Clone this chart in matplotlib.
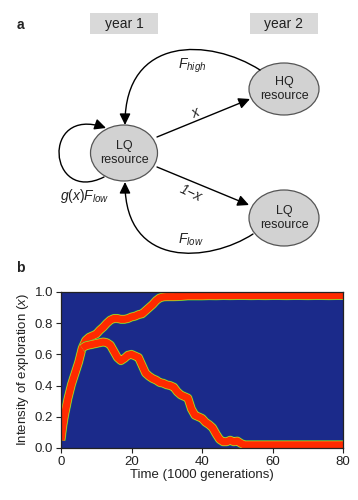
import matplotlib
matplotlib.use("Agg")
import matplotlib.pyplot as plt
from matplotlib.patches import Ellipse, Rectangle, FancyArrowPatch
from matplotlib.path import Path

plt.rcParams['font.family'] = ['Liberation Sans', 'DejaVu Sans']
plt.rcParams['mathtext.fontset'] = 'custom'
plt.rcParams['mathtext.rm'] = 'Liberation Sans'
plt.rcParams['mathtext.it'] = 'Liberation Sans:italic'
plt.rcParams['mathtext.bf'] = 'Liberation Sans:bold'

# ---------------- data (panel b) ----------------
t_upper = [0, 0.5, 1, 2, 3, 4, 5, 6, 7, 8, 9, 10, 11, 12, 13, 14, 15, 16, 17, 18,
           19, 20, 21, 22, 23, 24, 25, 26, 27, 28, 29, 30, 32, 34, 36, 38, 40, 42,
           44, 46, 48, 50, 52, 54, 56, 58, 60, 62, 64, 66, 68, 70, 72, 74, 76, 78, 80]
x_upper = [0.05, 0.14, 0.21, 0.32, 0.41, 0.48, 0.55, 0.64, 0.69, 0.71, 0.72, 0.73,
           0.755, 0.775, 0.80, 0.82, 0.83, 0.83, 0.825, 0.825, 0.83, 0.84, 0.845,
           0.855, 0.86, 0.88, 0.90, 0.92, 0.945, 0.962, 0.968, 0.97, 0.97, 0.972,
           0.975, 0.975, 0.975, 0.977, 0.976, 0.978, 0.977, 0.978, 0.978, 0.977,
           0.978, 0.977, 0.978, 0.978, 0.977, 0.978, 0.978, 0.977, 0.978, 0.978,
           0.977, 0.978, 0.978]

t_lower = [6, 7, 8, 9, 10, 11, 12, 13, 14, 15, 16, 17, 18, 19, 20, 21, 22, 23, 24,
           25, 26, 27, 28, 29, 30, 31, 32, 33, 34, 35, 36, 37, 38, 39, 40, 41, 42,
           43, 44, 45, 46, 47, 48, 49, 50, 51, 52, 56, 60, 64, 68, 72, 76, 80]
x_lower = [0.64, 0.655, 0.66, 0.665, 0.67, 0.675, 0.68, 0.675, 0.66, 0.62, 0.58,
           0.56, 0.575, 0.595, 0.60, 0.59, 0.58, 0.53, 0.48, 0.46, 0.445, 0.435,
           0.42, 0.415, 0.405, 0.40, 0.39, 0.36, 0.34, 0.33, 0.32, 0.25, 0.21,
           0.20, 0.19, 0.165, 0.15, 0.13, 0.09, 0.055, 0.04, 0.04, 0.05, 0.04,
           0.045, 0.03, 0.02, 0.02, 0.02, 0.02, 0.02, 0.02, 0.02, 0.02]

x_ticks = [0, 20, 40, 60, 80]
y_ticks = [0.0, 0.2, 0.4, 0.6, 0.8, 1.0]

TXT = '#222222'

fig = plt.figure(figsize=(3.58, 5.0), dpi=100)

# ---------------- panel a (diagram, pixel coordinates) ----------------
ax_a = fig.add_axes([0, 0, 1, 1])
ax_a.set_xlim(0, 358)
ax_a.set_ylim(500, 0)
ax_a.axis('off')

ax_a.text(20, 25, 'a', fontsize=10, fontweight='bold', ha='center', va='center', color=TXT)
for cx, lab in [(124, 'year 1'), (284, 'year 2')]:
    ax_a.add_patch(Rectangle((cx - 34, 13), 68, 21, facecolor='#d9d9d9', edgecolor='none'))
    ax_a.text(cx, 24, lab, fontsize=10, ha='center', va='center', color=TXT)

for (cx, cy, w, h, lab) in [(124, 153, 67, 56, 'LQ\nresource'),
                            (284, 89, 70, 52, 'HQ\nresource'),
                            (284, 218, 70, 56, 'LQ\nresource')]:
    ax_a.add_patch(Ellipse((cx, cy), w, h, facecolor='#d2d2d2', edgecolor='#555555', lw=0.9))
    ax_a.text(cx, cy, lab, fontsize=9, ha='center', va='center', color=TXT, linespacing=1.25)

astyle = '-|>,head_length=0.45,head_width=0.22'
akw = dict(arrowstyle=astyle, mutation_scale=15, color='black', lw=1.0,
           shrinkA=0, shrinkB=0)

# straight arrows
ax_a.add_patch(FancyArrowPatch((157, 137), (250, 99), **akw))
ax_a.add_patch(FancyArrowPatch((157, 167), (249, 205), **akw))

C = [Path.MOVETO, Path.CURVE4, Path.CURVE4, Path.CURVE4]
# F_high curve
ax_a.add_patch(FancyArrowPatch(path=Path([(260, 70), (210, 38), (125, 35), (125, 125)], C),
                               arrowstyle=astyle, mutation_scale=15, color='black', lw=1.0))
# F_low curve
ax_a.add_patch(FancyArrowPatch(path=Path([(253, 234), (210, 262), (125, 270), (125, 182)], C),
                               arrowstyle=astyle, mutation_scale=15, color='black', lw=1.0))
# self loop
ax_a.add_patch(FancyArrowPatch(path=Path([(104, 177), (48, 205), (40, 105), (106, 128)], C),
                               arrowstyle=astyle, mutation_scale=15, color='black', lw=1.0))

ax_a.text(192, 66, r'$F_{high}$', fontsize=10, ha='center', va='center', color=TXT)
ax_a.text(196, 113, r'$x$', fontsize=10, ha='center', va='center', color=TXT, rotation=22)
ax_a.text(191, 193, '1\u2212x', fontsize=10, style='italic', ha='center', va='center',
          color=TXT, rotation=-25)
ax_a.text(191, 240, r'$F_{low}$', fontsize=10, ha='center', va='center', color=TXT)
ax_a.text(85, 196, r'$g(x)F_{low}$', fontsize=10, ha='center', va='center', color=TXT)

ax_a.text(20, 268, 'b', fontsize=10, fontweight='bold', ha='center', va='center', color=TXT)

# ---------------- panel b ----------------
ax = fig.add_axes([61 / 358, 52 / 500, 282 / 358, 156 / 500])
ax.set_facecolor('#1b2a8a')
for tt, xx in [(t_upper, x_upper), (t_lower, x_lower)]:
    ax.plot(tt, xx, color='#3cb043', lw=6.6, solid_capstyle='butt', solid_joinstyle='round')
    ax.plot(tt, xx, color='#d6e020', lw=5.9, solid_capstyle='butt', solid_joinstyle='round')
    ax.plot(tt, xx, color='#ff2a00', lw=5.2, solid_capstyle='butt', solid_joinstyle='round')

ax.set_xlim(0, 80)
ax.set_ylim(0, 1)
ax.set_xticks(x_ticks)
ax.set_yticks(y_ticks)
ax.set_yticklabels([f'{v:.1f}' for v in y_ticks])
ax.tick_params(direction='out', length=3.5, width=0.8, labelsize=9.5, colors=TXT, pad=2)
for s in ax.spines.values():
    s.set_linewidth(0.9)
    s.set_color('#222222')
ax.set_xlabel('Time (1000 generations)', fontsize=9.5, color=TXT, labelpad=1)
ax.set_ylabel('Intensity of exploration ($x$)', fontsize=9.5, color=TXT, labelpad=3)

fig.savefig('out.png', dpi=100)
